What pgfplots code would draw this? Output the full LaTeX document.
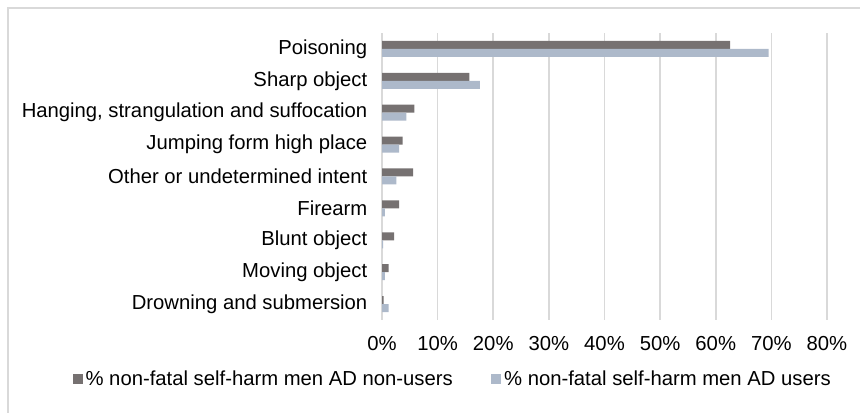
\documentclass[border=0pt]{standalone}
\usepackage{pgfplots}
\pgfplotsset{compat=1.18}
\usepackage{fontspec}
\setmainfont{Liberation Sans}
\definecolor{nonusers}{HTML}{767171}
\definecolor{users}{HTML}{ADB9CA}
\definecolor{gridc}{HTML}{D9D9D9}
\begin{document}
\begin{tikzpicture}[x=0.75pt,y=0.75pt]
\useasboundingbox (0,0) rectangle (860,413);
\draw[gridc,line width=0.9pt] (8,0) -- (8,405) -- (860,405);
\begin{axis}[
  at={(286.5pt,69.75pt)}, anchor=south west,
  width=333.75pt, height=215.25pt, scale only axis,
  xbar, bar width=6pt,
  xmin=0, xmax=80, ymin=-0.5, ymax=8.5,
  xtick={0,10,...,80},
  xticklabel={\pgfmathprintnumber{\tick}\%},
  ytick={0,...,8},
  yticklabels={Drowning and submersion, Moving object, Blunt object, Firearm, Other or undetermined intent, Jumping form high place, {Hanging, strangulation and suffocation}, Sharp object, Poisoning},
  axis line style={draw=none},
  major tick length=0pt,
  xmajorgrids, grid style={gridc, line width=1.2pt},
  tick label style={font=\fontsize{15.2}{18}\selectfont, text=black},
  yticklabel style={xshift=-7.5pt},
  xticklabel style={yshift=-8.5pt},
  /pgf/number format/assume math mode=true,
  legend style={at={(0.16,-0.205)}, anchor=center, draw=none, fill=none,
    font=\fontsize{15.2}{18}\selectfont, legend columns=2,
    /tikz/every even column/.append style={column sep=27pt},
    inner sep=0pt},
  legend image code/.code={\fill[#1] (0pt,-3.75pt) rectangle (7.5pt,3.75pt);},
]
\addplot[fill=nonusers, draw=none, bar shift=3pt] coordinates {
 (0.3,0) (1.2,1) (2.2,2) (3.1,3) (5.6,4) (3.7,5) (5.8,6) (15.7,7) (62.6,8)};
\addplot[fill=users, draw=none, bar shift=-3pt] coordinates {
 (1.2,0) (0.5,1) (0.2,2) (0.5,3) (2.6,4) (3.1,5) (4.4,6) (17.6,7) (69.5,8)};
\legend{\% non-fatal self-harm men AD non-users, \% non-fatal self-harm men AD users}
\end{axis}
\end{tikzpicture}
\end{document}
